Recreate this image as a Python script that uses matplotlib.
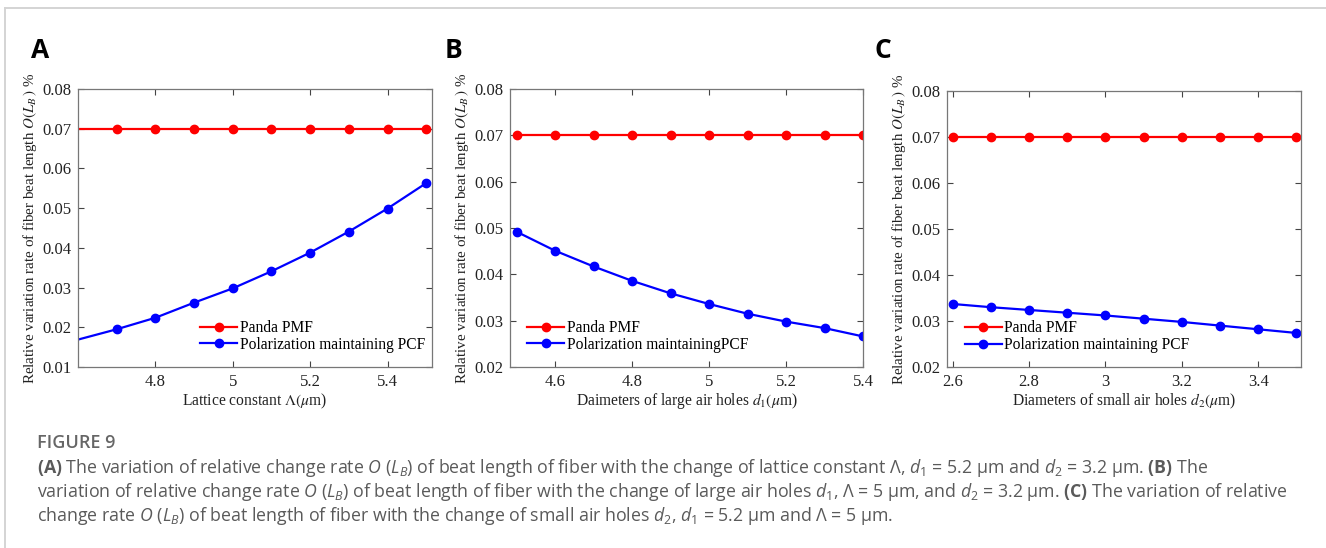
import numpy as np
import matplotlib
matplotlib.use("Agg")
import matplotlib.pyplot as plt
from matplotlib.ticker import FormatStrFormatter
from matplotlib.lines import Line2D

plt.rcParams["font.family"] = ["Liberation Serif", "DejaVu Serif"]
plt.rcParams["mathtext.fontset"] = "custom"
plt.rcParams["mathtext.rm"] = "Open Sans"
plt.rcParams["mathtext.it"] = "Open Sans:italic"
plt.rcParams["mathtext.bf"] = "Open Sans:bold"

# panel A: lattice constant
lat_x = [4.6, 4.7, 4.8, 4.9, 5.0, 5.1, 5.2, 5.3, 5.4, 5.5]
lat_pmf = [0.07] * 10
lat_pcf = [0.0169, 0.0195, 0.0224, 0.0262, 0.0298, 0.0341, 0.0388, 0.0441, 0.0499, 0.0563]

# panel B: large air holes d1
d1_x = [4.5, 4.6, 4.7, 4.8, 4.9, 5.0, 5.1, 5.2, 5.3, 5.4]
d1_pmf = [0.07] * 10
d1_pcf = [0.0492, 0.0451, 0.0417, 0.0386, 0.0359, 0.0336, 0.0315, 0.0298, 0.0284, 0.0266]

# panel C: small air holes d2
d2_x = [2.6, 2.7, 2.8, 2.9, 3.0, 3.1, 3.2, 3.3, 3.4, 3.5]
d2_pmf = [0.07] * 10
d2_pcf = [0.0337, 0.0330, 0.0324, 0.0318, 0.0312, 0.0305, 0.0298, 0.0290, 0.0282, 0.0274]

ylab = r"Relative variation rate of fiber beat length $O(L_B\,)$ %"

panels = [
    dict(x=lat_x, pmf=lat_pmf, pcf=lat_pcf, left=78, top=89, width=354,
         xlim=(4.6, 5.515), ylim=(0.01, 0.08), xticks=[4.8, 5.0, 5.2, 5.4],
         yticks=np.arange(0.01, 0.0801, 0.01), letter="A", lx=31,
         xlabel=r"Lattice constant $\Lambda(\mu$m)",
         pcf_label="Polarization maintaining PCF", leg=(0.345, 0.11), mark=range(1, 10)),
    dict(x=d1_x, pmf=d1_pmf, pcf=d1_pcf, left=510, top=89, width=353,
         xlim=(4.483, 5.4), ylim=(0.02, 0.08), xticks=[4.6, 4.8, 5.0, 5.2, 5.4],
         yticks=np.arange(0.02, 0.0801, 0.01), letter="B", lx=445,
         xlabel=r"Daimeters of large air holes $d_1(\mu$m)",
         pcf_label="Polarization maintainingPCF", leg=(0.048, 0.11), mark=range(0, 10)),
    dict(x=d2_x, pmf=d2_pmf, pcf=d2_pcf, left=947, top=91, width=354,
         xlim=(2.585, 3.512), ylim=(0.02, 0.08), xticks=[2.6, 2.8, 3.0, 3.2, 3.4],
         yticks=np.arange(0.02, 0.0801, 0.01), letter="C", lx=874,
         xlabel=r"Diameters of small air holes $d_2(\mu$m)",
         pcf_label="Polarization maintaining PCF", leg=(0.05, 0.11), mark=range(0, 10)),
]

W, H = 1326, 548
fig = plt.figure(figsize=(W / 100, H / 100), dpi=100)

for p in panels:
    bottom = 367
    ax = fig.add_axes([p["left"] / W, 1 - bottom / H, p["width"] / W, (bottom - p["top"]) / H])
    ax.plot(p["x"], p["pmf"], color="#ff0000", lw=1.6, marker="o", ms=6,
            markevery=list(p["mark"]), label="Panda PMF")
    ax.plot(p["x"], p["pcf"], color="#0000ff", lw=1.6, marker="o", ms=6,
            markevery=list(p["mark"]), label=p["pcf_label"])
    ax.set_xlim(*p["xlim"])
    ax.set_ylim(*p["ylim"])
    ax.set_xticks(p["xticks"])
    ax.set_yticks(p["yticks"])
    ax.xaxis.set_major_formatter(FormatStrFormatter("%g"))
    ax.yaxis.set_major_formatter(FormatStrFormatter("%.2f"))
    ax.tick_params(direction="in", top=True, right=True, labelsize=12,
                   length=4, width=0.8, color="#444444", labelcolor="#222222", pad=5)
    for s in ax.spines.values():
        s.set_color("#777777")
        s.set_linewidth(0.9)
    ax.set_xlabel(p["xlabel"], fontsize=11.2, color="#222222", labelpad=1,
                  math_fontfamily="stix")
    ax.set_ylabel(ylab, fontsize=10.8, color="#222222", labelpad=2,
                  math_fontfamily="stix")
    ax.legend(loc="center left", bbox_to_anchor=p["leg"], frameon=False,
              fontsize=11.2, handlelength=2.4, handletextpad=0.15,
              labelspacing=0.05, borderpad=0, borderaxespad=0)
    fig.text(p["lx"] / W, 1 - 50 / H, p["letter"], fontsize=19, fontweight="bold",
             family="Open Sans", va="center", ha="left")

# page frame lines
fig.add_artist(Line2D([4.5 / W, 4.5 / W], [0, 1 - 7.5 / H], color="#d4d4d4", lw=1.4))
fig.add_artist(Line2D([4.5 / W, 1], [1 - 7.5 / H, 1 - 7.5 / H], color="#d4d4d4", lw=1.4))

# caption
fig.text(37 / W, 1 - 443 / H, "FIGURE 9", family="Open Sans", fontsize=13,
         fontweight="semibold", color="#666666", va="center")
cap = [
    r"$\mathbf{(A)}$ The variation of relative change rate $\mathit{O}$ ($\mathit{L_B}$) of beat length of fiber with the change of lattice constant Λ, $\mathit{d_1}$ = 5.2 μm and $\mathit{d_2}$ = 3.2 μm. $\mathbf{(B)}$ The",
    r"variation of relative change rate $\mathit{O}$ ($\mathit{L_B}$) of beat length of fiber with the change of large air holes $\mathit{d_1}$, Λ = 5 μm, and $\mathit{d_2}$ = 3.2 μm. $\mathbf{(C)}$ The variation of relative",
    r"change rate $\mathit{O}$ ($\mathit{L_B}$) of beat length of fiber with the change of small air holes $\mathit{d_2}$, $\mathit{d_1}$ = 5.2 μm and Λ = 5 μm.",
]
for i, line in enumerate(cap):
    fig.text(37 / W, 1 - (468 + 24 * i) / H, line, family="Open Sans", fontsize=12.8,
             color="#5a5a5a", va="center")

fig.savefig("out.png", dpi=100)
